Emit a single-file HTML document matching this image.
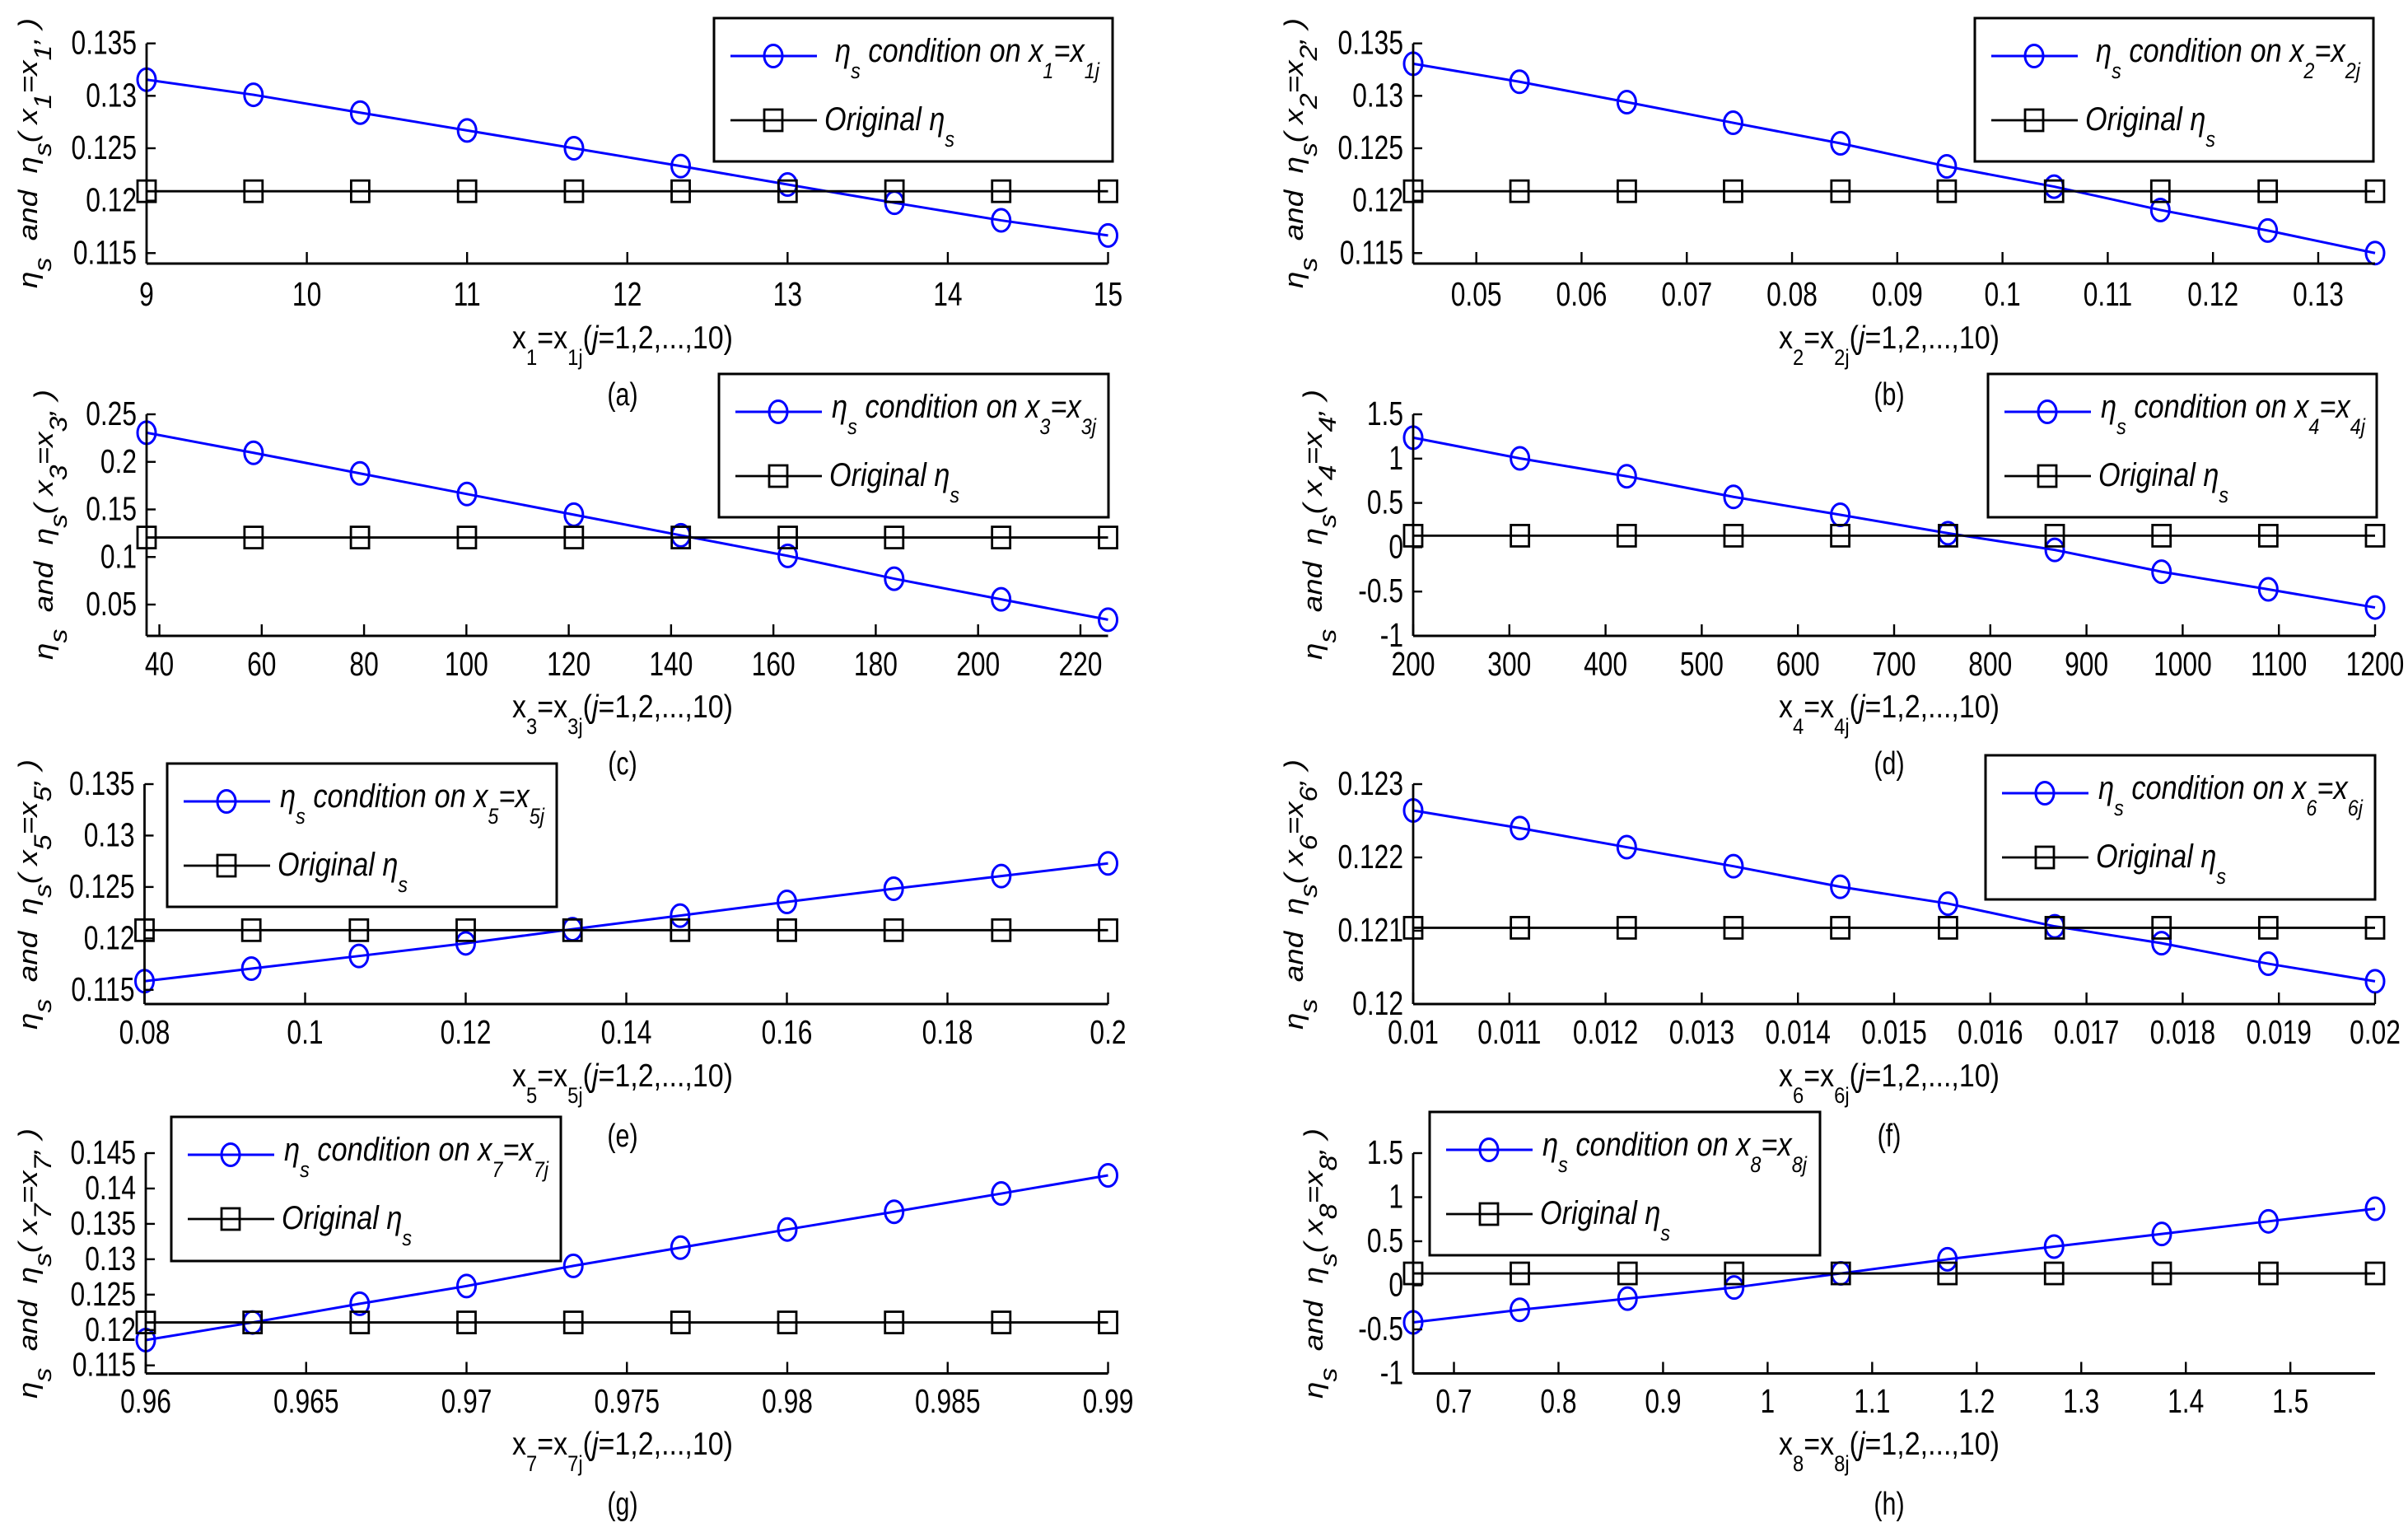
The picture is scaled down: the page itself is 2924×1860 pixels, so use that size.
<!DOCTYPE html>
<html>
<head>
<meta charset="utf-8">
<title>Sensitivity of eta_s for x1 to x8</title>
<style>
html,body{margin:0;padding:0;background:#fff;}
svg{display:block;}
text{font-family:"Liberation Sans","DejaVu Sans",sans-serif;fill:#000;white-space:pre;}
</style>
</head>
<body>
<svg id="figure" xmlns="http://www.w3.org/2000/svg" width="2924" height="1860" viewBox="0 0 2924 1860">
<rect x="0" y="0" width="2924" height="1860" fill="#fff"/>
</svg>
<script>
// ---- chart data ----
const xValuesA = [9, 9.667, 10.333, 11, 11.667, 12.333, 13, 13.667, 14.333, 15];
const etaValuesA = [0.13154, 0.1301, 0.1284, 0.1267, 0.125, 0.1233, 0.12154, 0.1198, 0.11812, 0.11668];
const originalValuesA = [0.1209, 0.1209, 0.1209, 0.1209, 0.1209, 0.1209, 0.1209, 0.1209, 0.1209, 0.1209];
const xTicksA = [9, 10, 11, 12, 13, 14, 15];
const yTicksA = [0.115, 0.12, 0.125, 0.13, 0.135];
const xDomainA = [9, 15];
const yDomainA = [0.114, 0.135];

const xValuesB = [0.044, 0.0541, 0.0643, 0.0744, 0.0846, 0.0947, 0.1049, 0.115, 0.1252, 0.1354];
const etaValuesB = [0.13306, 0.13134, 0.1294, 0.12743, 0.12547, 0.12327, 0.12134, 0.11911, 0.11715, 0.115];
const originalValuesB = [0.1209, 0.1209, 0.1209, 0.1209, 0.1209, 0.1209, 0.1209, 0.1209, 0.1209, 0.1209];
const xTicksB = [0.05, 0.06, 0.07, 0.08, 0.09, 0.1, 0.11, 0.12, 0.13];
const yTicksB = [0.115, 0.12, 0.125, 0.13, 0.135];
const xDomainB = [0.044, 0.1354];
const yDomainB = [0.114, 0.135];

const xValuesC = [37.5, 58.4, 79.2, 100.1, 121, 141.9, 162.8, 183.6, 204.5, 225.4];
const etaValuesC = [0.2306, 0.2095, 0.1879, 0.1662, 0.1445, 0.1228, 0.1012, 0.0772, 0.0555, 0.0341];
const originalValuesC = [0.1205, 0.1205, 0.1205, 0.1205, 0.1205, 0.1205, 0.1205, 0.1205, 0.1205, 0.1205];
const xTicksC = [40, 60, 80, 100, 120, 140, 160, 180, 200, 220];
const yTicksC = [0.05, 0.1, 0.15, 0.2, 0.25];
const xDomainC = [37.5, 225.4];
const yDomainC = [0.0171, 0.25];

const xValuesD = [200, 311, 422, 533, 644, 756, 867, 978, 1089, 1200];
const etaValuesD = [1.236, 1.003, 0.801, 0.568, 0.366, 0.158, -0.03, -0.276, -0.475, -0.68];
const originalValuesD = [0.13, 0.13, 0.13, 0.13, 0.13, 0.13, 0.13, 0.13, 0.13, 0.13];
const xTicksD = [200, 300, 400, 500, 600, 700, 800, 900, 1000, 1100, 1200];
const yTicksD = [-1, -0.5, 0, 0.5, 1, 1.5];
const xDomainD = [200, 1200];
const yDomainD = [-1, 1.5];

const xValuesE = [0.08, 0.0933, 0.1067, 0.12, 0.1333, 0.1467, 0.16, 0.1733, 0.1867, 0.2];
const etaValuesE = [0.11584, 0.11706, 0.11829, 0.11952, 0.1209, 0.12222, 0.12355, 0.12483, 0.12606, 0.12729];
const originalValuesE = [0.1208, 0.1208, 0.1208, 0.1208, 0.1208, 0.1208, 0.1208, 0.1208, 0.1208, 0.1208];
const xTicksE = [0.08, 0.1, 0.12, 0.14, 0.16, 0.18, 0.2];
const yTicksE = [0.115, 0.12, 0.125, 0.13, 0.135];
const xDomainE = [0.08, 0.2];
const yDomainE = [0.11362, 0.135];

const xValuesF = [0.01, 0.01111, 0.01222, 0.01333, 0.01444, 0.01556, 0.01667, 0.01778, 0.01889, 0.02];
const etaValuesF = [0.12264, 0.1224, 0.12214, 0.12188, 0.1216, 0.12137, 0.12106, 0.12083, 0.12055, 0.12031];
const originalValuesF = [0.12104, 0.12104, 0.12104, 0.12104, 0.12104, 0.12104, 0.12104, 0.12104, 0.12104, 0.12104];
const xTicksF = [0.01, 0.011, 0.012, 0.013, 0.014, 0.015, 0.016, 0.017, 0.018, 0.019, 0.02];
const yTicksF = [0.12, 0.121, 0.122, 0.123];
const xDomainF = [0.01, 0.02];
const yDomainF = [0.12, 0.123];

const xValuesG = [0.96, 0.96333, 0.96667, 0.97, 0.97333, 0.97667, 0.98, 0.98333, 0.98667, 0.99];
const etaValuesG = [0.11857, 0.12107, 0.12371, 0.12621, 0.12907, 0.13164, 0.13421, 0.13671, 0.13929, 0.14186];
const originalValuesG = [0.12107, 0.12107, 0.12107, 0.12107, 0.12107, 0.12107, 0.12107, 0.12107, 0.12107, 0.12107];
const xTicksG = [0.96, 0.965, 0.97, 0.975, 0.98, 0.985, 0.99];
const yTicksG = [0.115, 0.12, 0.125, 0.13, 0.135, 0.14, 0.145];
const xDomainG = [0.96, 0.99];
const yDomainG = [0.11386, 0.145];

const xValuesH = [0.661, 0.763, 0.866, 0.968, 1.07, 1.172, 1.274, 1.377, 1.479, 1.581];
const etaValuesH = [-0.421, -0.278, -0.151, -0.025, 0.135, 0.296, 0.439, 0.583, 0.726, 0.869];
const originalValuesH = [0.135, 0.135, 0.135, 0.135, 0.135, 0.135, 0.135, 0.135, 0.135, 0.135];
const xTicksH = [0.7, 0.8, 0.9, 1, 1.1, 1.2, 1.3, 1.4, 1.5];
const yTicksH = [-1, -0.5, 0, 0.5, 1, 1.5];
const xDomainH = [0.661, 1.581];
const yDomainH = [-1, 1.5];

// ---- panel wiring and layout ----
const panels = [
  {id:'a', n:1, xs:xValuesA, eta:etaValuesA, orig:originalValuesA, xt:xTicksA, yt:yTicksA, xd:xDomainA, yd:yDomainA,
   l:178, r:1345.5, t:52.7, b:320, leg:[867,22,484,174], etaDx:147, yl:[45,186], xlY:423, capY:492, tickY:371},
  {id:'b', n:2, xs:xValuesB, eta:etaValuesB, orig:originalValuesB, xt:xTicksB, yt:yTicksB, xd:xDomainB, yd:yDomainB,
   l:1716, r:2884, t:52.7, b:320, leg:[2398,22,484,174], etaDx:147, yl:[1582,186], xlY:423, capY:492, tickY:371},
  {id:'c', n:3, xs:xValuesC, eta:etaValuesC, orig:originalValuesC, xt:xTicksC, yt:yTicksC, xd:xDomainC, yd:yDomainC,
   l:178, r:1345.5, t:503, b:772, leg:[873,454,473,174], etaDx:137, yl:[64,637], xlY:871, capY:940, tickY:820},
  {id:'d', n:4, xs:xValuesD, eta:etaValuesD, orig:originalValuesD, xt:xTicksD, yt:yTicksD, xd:xDomainD, yd:yDomainD,
   l:1716, r:2884, t:503, b:772, leg:[2414,454,472,174], etaDx:137, yl:[1605,637], xlY:871, capY:940, tickY:820},
  {id:'e', n:5, xs:xValuesE, eta:etaValuesE, orig:originalValuesE, xt:xTicksE, yt:yTicksE, xd:xDomainE, yd:yDomainE,
   l:175.5, r:1345.5, t:952, b:1219, leg:[203,927,473,174], etaDx:137, yl:[45,1086], xlY:1319, capY:1392, tickY:1267},
  {id:'f', n:6, xs:xValuesF, eta:etaValuesF, orig:originalValuesF, xt:xTicksF, yt:yTicksF, xd:xDomainF, yd:yDomainF,
   l:1716, r:2884, t:952, b:1219, leg:[2411,917,473,175], etaDx:137, yl:[1582,1086], xlY:1319, capY:1392, tickY:1267},
  {id:'g', n:7, xs:xValuesG, eta:etaValuesG, orig:originalValuesG, xt:xTicksG, yt:yTicksG, xd:xDomainG, yd:yDomainG,
   l:177, r:1345.5, t:1400, b:1667.5, leg:[208,1356,473,175], etaDx:137, yl:[45,1534], xlY:1766, capY:1839, tickY:1715},
  {id:'h', n:8, xs:xValuesH, eta:etaValuesH, orig:originalValuesH, xt:xTicksH, yt:yTicksH, xd:xDomainH, yd:yDomainH,
   l:1716, r:2884, t:1400, b:1667.5, leg:[1736,1350,474,174], etaDx:137, yl:[1606,1534], xlY:1766, capY:1839, tickY:1715}
];

const SVGNS = 'http://www.w3.org/2000/svg';
const BLUE = '#0000ff';
const root = document.getElementById('figure');

function svgEl(tag, attrs, parent) {
  const node = document.createElementNS(SVGNS, tag);
  for (const k in attrs) node.setAttribute(k, attrs[k]);
  parent.appendChild(node);
  return node;
}

// markup: _{..} is a subscript, *..* is italic
function fillRich(textNode, str, subScale, subDy, baseSize) {
  const parts = str.split(/(_\{[^}]*\}|\*[^*]*\*)/).filter(function (s) { return s.length; });
  let pending = 0;
  parts.forEach(function (p) {
    const span = document.createElementNS(SVGNS, 'tspan');
    let dy = pending;
    pending = 0;
    if (p.charAt(0) === '_') {
      span.textContent = p.slice(2, -1);
      span.setAttribute('font-size', baseSize * subScale);
      dy += subDy;
      pending = -subDy;
    } else if (p.charAt(0) === '*') {
      span.textContent = p.slice(1, -1);
      span.setAttribute('font-style', 'italic');
    } else {
      span.textContent = p;
    }
    if (dy) span.setAttribute('dy', dy);
    textNode.appendChild(span);
  });
}

function placeFit(node, x, y, width, rotated) {
  const len = node.getComputedTextLength();
  const sx = width / len;
  node.setAttribute('transform', 'translate(' + x + ',' + y + ') ' + (rotated ? 'rotate(-90) ' : '') + 'scale(' + sx + ',1)');
}

panels.forEach(function (p) {
  const sx = function (v) { return p.l + (v - p.xd[0]) / (p.xd[1] - p.xd[0]) * (p.r - p.l); };
  const sy = function (v) { return p.b - (v - p.yd[0]) / (p.yd[1] - p.yd[0]) * (p.b - p.t); };

  const g = svgEl('g', {}, root);
  
  

  // series: blue
  const blue = svgEl('g', {fill:'none', stroke:BLUE, 'stroke-width':3}, g);
  
  
  const bluePath = svgEl('polyline', {points:p.xs.map(function (x, i) { return sx(x) + ',' + sy(p.eta[i]); }).join(' ')}, blue);
  
  
  p.xs.forEach(function (x, i) {
    const m = svgEl('ellipse', {cx:sx(x), cy:sy(p.eta[i]), rx:11, ry:13.5}, blue);
    
    
  });

  // series: black
  const black = svgEl('g', {fill:'none', stroke:'#000', 'stroke-width':2.8}, g);
  
  
  const blackPath = svgEl('polyline', {points:p.xs.map(function (x, i) { return sx(x) + ',' + sy(p.orig[i]); }).join(' ')}, black);
  
  
  p.xs.forEach(function (x, i) {
    const m = svgEl('rect', {x:sx(x) - 11, y:sy(p.orig[i]) - 13, width:22, height:26}, black);
    
    
  });

  // axes
  const yAxis = svgEl('line', {x1:p.l, x2:p.l, y1:p.t, y2:p.b, stroke:'#000', 'stroke-width':2.8}, g);
  
  
  const xAxis = svgEl('line', {x1:p.l, x2:p.r, y1:p.b, y2:p.b, stroke:'#000', 'stroke-width':3}, g);
  
  

  p.xt.forEach(function (v) {
    const tick = svgEl('line', {x1:sx(v), x2:sx(v), y1:p.b, y2:p.b - 14, stroke:'#000', 'stroke-width':2.4}, g);
    
    
    const label = svgEl('text', {'text-anchor':'middle', 'font-size':41, transform:'translate(' + sx(v) + ',' + p.tickY + ') scale(.775,1)'}, g);
    label.textContent = String(v);
    
    
  });

  p.yt.forEach(function (v) {
    const tick = svgEl('line', {x1:p.l, x2:p.l + 11, y1:sy(v), y2:sy(v), stroke:'#000', 'stroke-width':2.4}, g);
    
    
    const label = svgEl('text', {'text-anchor':'end', 'font-size':41, transform:'translate(' + (p.l - 12) + ',' + (sy(v) + 13) + ') scale(.775,1)'}, g);
    label.textContent = String(v);
    
    
  });

  // axis titles and caption
  const yTitle = svgEl('text', {'text-anchor':'middle', 'font-size':32, 'font-style':'italic'}, g);
  fillRich(yTitle, '\u03B7_{s}  and  \u03B7_{s}( x_{' + p.n + '}=x_{' + p.n + '}, )', 0.92, 17, 32);
  
  
  placeFit(yTitle, p.yl[0], p.yl[1], 328, true);

  const cx = p.l < 1000 ? 756 : 2294;
  const xTitle = svgEl('text', {'text-anchor':'middle', 'font-size':39}, g);
  fillRich(xTitle, 'x_{' + p.n + '}=x_{' + p.n + 'j}(*j*=1,2,...,10)', 0.7, 20, 39);
  
  
  placeFit(xTitle, cx, p.xlY, 268, false);

  const caption = svgEl('text', {'text-anchor':'middle', 'font-size':39, transform:'translate(' + cx + ',' + p.capY + ') scale(.78,1)'}, g);
  caption.textContent = '(' + p.id + ')';
  
  

  // legend
  const L = p.leg;
  const legend = svgEl('g', {}, g);
  
  
  const box = svgEl('rect', {x:L[0], y:L[1], width:L[2], height:L[3], fill:'#fff', stroke:'#000', 'stroke-width':3}, legend);
  
  

  const y1 = L[1] + 46, y2 = L[1] + 124, x0 = L[0] + 20, x1 = L[0] + 125, mx = L[0] + 72;
  const key1 = svgEl('line', {x1:x0, x2:x1, y1:y1, y2:y1, stroke:BLUE, 'stroke-width':3}, legend);
  
  
  const mark1 = svgEl('ellipse', {cx:mx, cy:y1, rx:11, ry:13.5, fill:'none', stroke:BLUE, 'stroke-width':3}, legend);
  
  
  const key2 = svgEl('line', {x1:x0, x2:x1, y1:y2, y2:y2, stroke:'#000', 'stroke-width':2.8}, legend);
  
  
  const mark2 = svgEl('rect', {x:mx - 11, y:y2 - 13, width:22, height:26, fill:'none', stroke:'#000', 'stroke-width':2.8}, legend);
  
  

  const t1 = svgEl('text', {'font-size':40, 'font-style':'italic'}, legend);
  fillRich(t1, '\u03B7_{s} condition on x_{' + p.n + '}=x_{' + p.n + 'j}', 0.68, 20, 40);
  
  
  placeFit(t1, L[0] + p.etaDx, L[1] + 53, 321, false);

  const t2 = svgEl('text', {'font-size':40, 'font-style':'italic'}, legend);
  fillRich(t2, 'Original \u03B7_{s}', 0.68, 20, 40);
  
  
  placeFit(t2, L[0] + 134, L[1] + 136, 158, false);
});
</script>
</body>
</html>
